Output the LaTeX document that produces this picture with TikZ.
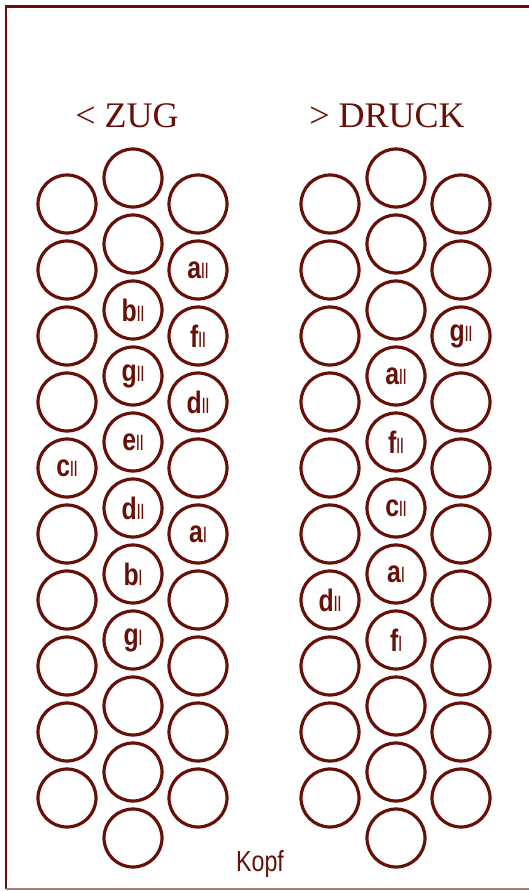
\documentclass[tikz,border=0pt]{standalone}
\usepackage{fontspec}
\setmainfont{Liberation Serif}
\newfontfamily\knopffont[FakeStretch=0.8]{Liberation Sans}
\usetikzlibrary{positioning}
\definecolor{harmbraun}{RGB}{102,16,8}
\tikzset{
  knopf/.style={circle, draw=harmbraun, line width=3.2pt, minimum size=58pt,
                inner sep=0pt, text=harmbraun, font=\knopffont},
  ttl/.style={font=\fontsize{36}{36}\selectfont, text=harmbraun, anchor=base},
  kopflab/.style={font=\knopffont\fontsize{29}{29}\selectfont, text=harmbraun, anchor=base},
  rahmen/.style={harmbraun, line width=2.6pt},
}
% Ton im Knopf: Buchstabe fett, Oktavstriche duenn
\newcommand{\hton}[2]{{\bfseries\fontsize{31}{31}\selectfont #1}{\fontsize{21}{21}\selectfont #2}}

\begin{document}
\begin{tikzpicture}[x=1pt, y=-1pt]
  \useasboundingbox (0,0) rectangle (529,891);
  \draw[rahmen] (529,6.5) -- (6,6.5) -- (6,889);
  \draw[harmbraun!55, line width=1.8pt] (6,889) -- (529,889);

  \node[ttl] (zug) at (127,127) {< ZUG};
  \node[ttl] (druck) at (387,127) {> DRUCK};

  % Zug
  \foreach \lab [count=\i from 0] in {{},{},{},{},{\hton{c}{ll}},{},{},{},{},{}}
    \node[knopf] (zug-l\i) at (67,204+66*\i) {\lab};
  \foreach \lab [count=\i from 0] in {{},{},{\hton{b}{ll}},{\hton{g}{ll}},{\hton{e}{ll}},
      {\hton{d}{ll}},{\hton{b}{l}},{\hton{g}{l}},{},{},{}}
    \node[knopf] (zug-m\i) at (133,178+66*\i) {\lab};
  \foreach \lab [count=\i from 0] in {{},{\hton{a}{ll}},{\hton{f}{ll}},{\hton{d}{ll}},{},
      {\hton{a}{l}},{},{},{},{}}
    \node[knopf] (zug-r\i) at (198,204+66*\i) {\lab};

  % Druck
  \foreach \lab [count=\i from 0] in {{},{},{},{},{},{},{\hton{d}{ll}},{},{},{}}
    \node[knopf] (druck-l\i) at (330,204+66*\i) {\lab};
  \foreach \lab [count=\i from 0] in {{},{},{},{\hton{a}{ll}},{\hton{f}{ll}},
      {\hton{c}{ll}},{\hton{a}{l}},{\hton{f}{l}},{},{},{}}
    \node[knopf] (druck-m\i) at (396,178+66*\i) {\lab};
  \foreach \lab [count=\i from 0] in {{},{},{\hton{g}{ll}},{},{},{},{},{},{},{}}
    \node[knopf] (druck-r\i) at (461,204+66*\i) {\lab};

  \node[kopflab] (kopf) at (260,871) {Kopf};
\end{tikzpicture}
\end{document}
